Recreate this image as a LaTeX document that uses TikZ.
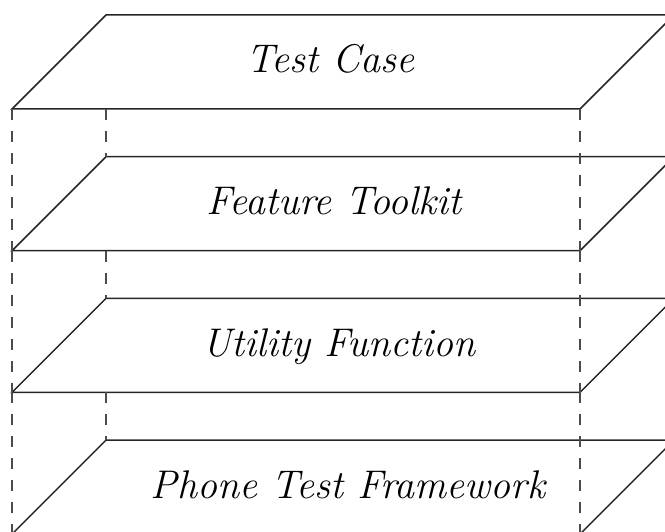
\documentclass[tikz,border=0pt]{standalone}
\usepackage{fontspec}
\begin{document}
\begin{tikzpicture}[x=1pt,y=-1pt,
  layer/.style={line width=1.5pt, line join=miter, black!85},
  guide/.style={line width=1.3pt, dash pattern=on 11pt off 11pt, black!70},
  lbl/.style={font=\fontsize{40}{44}\selectfont\itshape, anchor=base, inner sep=0pt}]
\useasboundingbox (0,0) rectangle (665,532);
\clip (0,0) rectangle (665,532);
\foreach \i/\t/\cx in {0/Test Case/330, 1/Feature Toolkit/334, 2/Utility Function/339, 3/Phone Test Framework/348} {
  \pgfmathsetmacro\ytp{15+141.7*\i}
  \pgfmathsetmacro\ybt{\ytp+94}
  \coordinate (fl\i) at (12,\ybt);
  \coordinate (bl\i) at (106,\ytp);
  \coordinate (fr\i) at (580,\ybt);
  \coordinate (br\i) at (674,\ytp);
  \draw[layer] (fl\i) -- (bl\i) -- (br\i) -- (fr\i) -- cycle;
  \node[lbl] (t\i) at (\cx,\ytp+58) {\t};
}
\foreach \i/\j in {0/1,1/2,2/3} {
  \draw[guide] (fl\i) -- (fl\j);
  \draw[guide] (bl\j |- fl\i) -- (bl\j);
  \draw[guide] (fr\i) -- (fr\j);
}
\end{tikzpicture}
\end{document}
